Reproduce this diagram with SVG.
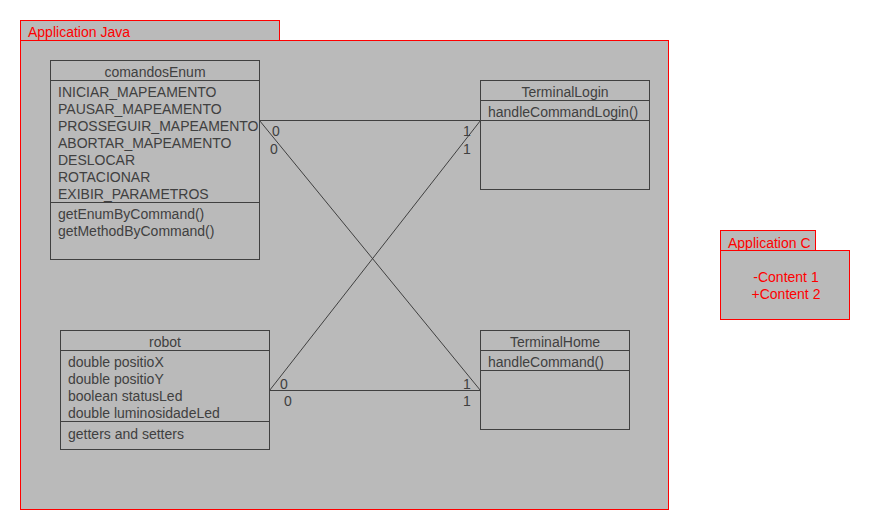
<svg xmlns="http://www.w3.org/2000/svg" width="870" height="530" viewBox="0 0 870 530">
  <style>
    .pkg { fill: #bababa; stroke: #ff0000; stroke-width: 1; }
    .pkgtxt { fill: #ff0000; font-family: "Liberation Sans", Arial, sans-serif; font-size: 14px; }
    .cls { fill: #bababa; stroke: #404040; stroke-width: 1; }
    .sep { stroke: #404040; stroke-width: 1; }
    .txt { fill: #404040; font-family: "Liberation Sans", Arial, sans-serif; font-size: 14px; }
    .mid { text-anchor: middle; }
    .edge { stroke: #404040; stroke-width: 1; fill: none; }
  </style>

  <!-- Application Java package -->
  <g id="pkg-java">
    <rect class="pkg" x="20.5" y="20.5" width="259" height="20"/>
    <rect class="pkg" x="20.5" y="40.5" width="648" height="469"/>
    <text class="pkgtxt" x="28" y="37">Application Java</text>
  </g>

  <!-- Application C package -->
  <g id="pkg-c">
    <rect class="pkg" x="720.5" y="230.5" width="95" height="20"/>
    <rect class="pkg" x="720.5" y="250.5" width="129" height="69"/>
    <text class="pkgtxt" x="728" y="248">Application C</text>
    <text class="pkgtxt mid" x="786" y="282">-Content 1</text>
    <text class="pkgtxt mid" x="786" y="299">+Content 2</text>
  </g>

  <!-- Associations -->
  <g id="connectors">
    <line class="edge" x1="259.5" y1="120.5" x2="480.5" y2="120.5"/>
    <line class="edge" x1="259.5" y1="120.5" x2="480.5" y2="390.5"/>
    <line class="edge" x1="269.5" y1="390.5" x2="480.5" y2="120.5"/>
    <line class="edge" x1="269.5" y1="390.5" x2="480.5" y2="390.5"/>
    <text class="txt" x="272" y="136">0</text>
    <text class="txt" x="270" y="154">0</text>
    <text class="txt" x="463" y="136">1</text>
    <text class="txt" x="463" y="154">1</text>
    <text class="txt" x="280" y="389">0</text>
    <text class="txt" x="284" y="406">0</text>
    <text class="txt" x="463" y="389">1</text>
    <text class="txt" x="463" y="406">1</text>
  </g>

  <!-- comandosEnum -->
  <g id="comandosEnum">
    <rect class="cls" x="50.5" y="60.5" width="209" height="199"/>
    <line class="sep" x1="50" y1="80.5" x2="260" y2="80.5"/>
    <line class="sep" x1="50" y1="202.5" x2="260" y2="202.5"/>
    <text class="txt mid" x="155" y="77">comandosEnum</text>
    <text class="txt" x="58" y="97">INICIAR_MAPEAMENTO</text>
    <text class="txt" x="58" y="114">PAUSAR_MAPEAMENTO</text>
    <text class="txt" x="58" y="131">PROSSEGUIR_MAPEAMENTO</text>
    <text class="txt" x="58" y="148">ABORTAR_MAPEAMENTO</text>
    <text class="txt" x="58" y="165">DESLOCAR</text>
    <text class="txt" x="58" y="182">ROTACIONAR</text>
    <text class="txt" x="58" y="199">EXIBIR_PARAMETROS</text>
    <text class="txt" x="58" y="219">getEnumByCommand()</text>
    <text class="txt" x="58" y="236">getMethodByCommand()</text>
  </g>

  <!-- TerminalLogin -->
  <g id="TerminalLogin">
    <rect class="cls" x="480.5" y="80.5" width="169" height="109"/>
    <line class="sep" x1="480" y1="100.5" x2="650" y2="100.5"/>
    <line class="sep" x1="480" y1="120.5" x2="650" y2="120.5"/>
    <text class="txt mid" x="565" y="97">TerminalLogin</text>
    <text class="txt" x="488" y="117">handleCommandLogin()</text>
  </g>

  <!-- robot -->
  <g id="robot">
    <rect class="cls" x="60.5" y="330.5" width="209" height="119"/>
    <line class="sep" x1="60" y1="350.5" x2="270" y2="350.5"/>
    <line class="sep" x1="60" y1="421.5" x2="270" y2="421.5"/>
    <text class="txt mid" x="165" y="347">robot</text>
    <text class="txt" x="68" y="367">double positioX</text>
    <text class="txt" x="68" y="384">double positioY</text>
    <text class="txt" x="68" y="401">boolean statusLed</text>
    <text class="txt" x="68" y="418">double luminosidadeLed</text>
    <text class="txt" x="68" y="439">getters and setters</text>
  </g>

  <!-- TerminalHome -->
  <g id="TerminalHome">
    <rect class="cls" x="480.5" y="330.5" width="149" height="99"/>
    <line class="sep" x1="480" y1="350.5" x2="630" y2="350.5"/>
    <line class="sep" x1="480" y1="370.5" x2="630" y2="370.5"/>
    <text class="txt mid" x="555" y="347">TerminalHome</text>
    <text class="txt" x="488" y="367">handleCommand()</text>
  </g>
</svg>
